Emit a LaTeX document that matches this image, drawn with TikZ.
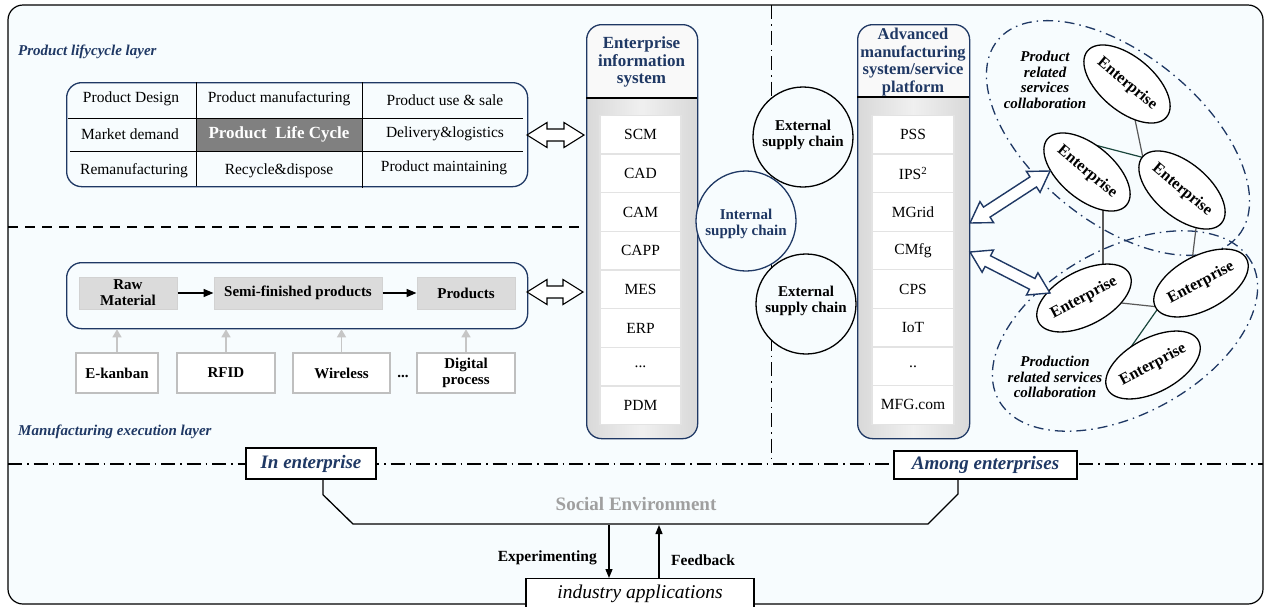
\documentclass[tikz,border=0pt]{standalone}
\usepackage{fontspec}
\setmainfont{Liberation Serif}
\usetikzlibrary{calc,arrows.meta,shapes.geometric}
\definecolor{navy}{RGB}{31,56,100}
\definecolor{bgc}{RGB}{247,252,254}
\definecolor{dgreen}{RGB}{25,70,60}
\definecolor{lcgray}{RGB}{128,128,128}
\newcommand{\fsz}[2]{\fontsize{#1}{#2}\selectfont}
\newcommand{\tdots}{.{}.{}.}
\newcommand{\dblarr}[3]{%
\draw[#1] (#2) -- ($(#2)!20pt!(#3)!12.5pt!90:(#3)$) -- ($(#2)!20pt!(#3)!6pt!90:(#3)$) -- ($(#3)!20pt!(#2)!6pt!-90:(#2)$) -- ($(#3)!20pt!(#2)!12.5pt!-90:(#2)$) -- (#3) -- ($(#3)!20pt!(#2)!12.5pt!90:(#2)$) -- ($(#3)!20pt!(#2)!6pt!90:(#2)$) -- ($(#2)!20pt!(#3)!6pt!-90:(#3)$) -- ($(#2)!20pt!(#3)!12.5pt!-90:(#3)$) -- cycle;}
\tikzset{
 txt/.style={font=\fsz{15.5}{17}, inner sep=0},
 cell/.style={draw=gray!22, line width=1.3, fill=white, minimum width=81, minimum height=38.7, inner sep=0, font=\fsz{15.5}{17}},
 hdr/.style={font=\bfseries\fsz{17}{17.8}, text=navy, align=center, inner sep=0},
 circ/.style={circle, draw, line width=1.3, fill=bgc, minimum size=100, inner sep=0},
 ctext/.style={align=center, inner sep=0, font=\bfseries\fsz{15}{16.5}},
 gbox/.style={fill=gray!28, draw=gray!35, line width=1, minimum height=32, inner sep=0, align=center, font=\bfseries\fsz{15}{16}},
 wbox/.style={fill=white, draw=gray!50, line width=1.2, minimum height=40, inner sep=0, align=center, font=\bfseries\fsz{15}{15.5}},
 rbox/.style={draw=navy, line width=1.3, rounded corners=15, inner sep=0},
 ent/.style={ellipse, draw, line width=1.3, fill=white, minimum width=100, minimum height=54, inner sep=0, font=\bfseries\fsz{16}{17}},
 grp/.style={ellipse, draw=navy, line width=1.3, dash pattern=on 10pt off 5pt on 1.5pt off 5pt},
 layer/.style={font=\bfseries\itshape\fsz{15}{17}, text=navy, anchor=west, inner sep=0},
 ibox/.style={draw, line width=1.5, fill=white, inner sep=0, font=\bfseries\itshape\fsz{19}{20}, text=navy},
 garr/.style={draw=gray!45, line width=1.5, -{Triangle[length=8pt,width=9pt]}},
 barr/.style={line width=1.3, -{Triangle[length=9pt,width=7pt]}},
 marr/.style={line width=1.6, -{Triangle[length=10pt,width=8pt]}},
 dblk/.style={draw, fill=white, line width=1.1},
 dblu/.style={draw=navy, fill=white, line width=1.4},
 ddash/.style={line width=1.3, dash pattern=on 14pt off 5pt on 1.5pt off 5pt},
 gline/.style={draw=gray!70!black, line width=1.2},
 kline/.style={draw=dgreen, line width=1.2},
 it/.style={font=\bfseries\itshape\fsz{15}{15.7}, align=center, inner sep=0}
}
\begin{document}
\begin{tikzpicture}[x=1pt,y=-1pt]
\useasboundingbox (0,0) rectangle (1266,606);
\fill[white] (0,0) rectangle (1266,606);
\draw[line width=1.2, fill=bgc, rounded corners=15] (8,5) rectangle (1263,604);

% layer separators
\draw[line width=1.2, dash pattern=on 10pt off 7pt] (8,227) -- (586,227);
\draw[ddash, line width=1] (771,5) -- (771,464);
\draw[ddash, line width=1.6] (8,464) -- (1263,464);

% layer labels
\node[layer] (l1) at (18,52) {Product lifycycle layer};
\node[layer] (l2) at (18,432) {Manufacturing execution layer};

% product life cycle table
\fill[lcgray] (196,118) rectangle (362,151);
\node[rbox, minimum width=461, minimum height=104, anchor=north west] (lc) at (66,82) {};
\draw[line width=1] (196,82) -- (196,186);
\draw[line width=1] (362,82) -- (362,188);
\draw[line width=1] (68,118) -- (523,118);
\draw[line width=1] (70,151) -- (523,151);
\node[txt] (c11) at (131,99) {Product Design};
\node[txt] (c12) at (279,99) {Product manufacturing};
\node[txt] (c13) at (445,100) {Product use \& sale};
\node[txt] (c21) at (130,134) {Market demand};
\node[txt, text=white, font=\bfseries\fsz{17}{18}] (c22) at (279,134) {Product\ \ Life Cycle};
\node[txt] (c23) at (445,134) {Delivery\&logistics};
\node[txt] (c31) at (134,171) {Remanufacturing};
\node[txt] (c32) at (279,171) {Recycle\&dispose};
\node[txt] (c33) at (444,168) {Product maintaining};

% manufacturing flow
\node[rbox, minimum width=461, minimum height=66, anchor=north west] (mfg) at (66,262) {};
\node[gbox, minimum width=98] (raw) at (128,293) {Raw\\Material};
\node[gbox, minimum width=168] (semi) at (298,293) {Semi-finished products};
\node[gbox, minimum width=98] (prod) at (466,293) {Products};
\draw[marr] (raw) -- (semi);
\draw[marr] (semi) -- (prod);
\node[wbox, minimum width=82] (ek) at (117,373) {E-kanban};
\node[wbox, minimum width=98] (rf) at (226,373) {RFID};
\node[wbox, minimum width=97] (wl) at (341.5,373) {Wireless};
\node[txt, font=\bfseries\fsz{15}{16}] (dd) at (403,376) {...};
\node[wbox, minimum width=98] (dp) at (466,373) {Digital\\process};
\foreach \b in {ek,rf,wl,dp}{\draw[garr] (\b.north) -- (\b.north |- mfg.south);}

% enterprise information system column
\path[rounded corners=15, fill=gray!5] (586,24) rectangle (697,438);
\begin{scope}
\clip[rounded corners=15] (586,24) rectangle (697,438);
\shade[left color=gray!30, right color=gray!30, middle color=gray!12] (586,98) rectangle (697,438);
\end{scope}
\node[rbox, minimum width=111, minimum height=414, anchor=north west] (eis) at (586,24) {};
\draw[line width=1.2] (586,98) -- (697,98);
\node[hdr] (eish) at (641.5,62) {Enterprise\\information\\system};
\foreach \t [count=\i] in {SCM,CAD,CAM,CAPP,MES,ERP,\tdots,PDM}{
 \node[cell] (eis\i) at (640.5, 115.4+\i*38.66-19.33) {\t};}

% advanced manufacturing column
\path[rounded corners=15, fill=gray!5] (857,24) rectangle (969,438);
\begin{scope}
\clip[rounded corners=15] (857,24) rectangle (969,438);
\shade[left color=gray!30, right color=gray!30, middle color=gray!12] (857,97) rectangle (969,438);
\end{scope}
\node[rbox, minimum width=112, minimum height=414, anchor=north west] (ams) at (857,24) {};
\draw[line width=1.2] (857,97) -- (969,97);
\node[hdr, font=\bfseries\fsz{16.5}{17.7}] (amsh) at (913,62) {Advanced\\manufacturing\\system/service\\platform};
\foreach \t [count=\i] in {PSS,IPS\textsuperscript{2},MGrid,CMfg,CPS,IoT,..,MFG.com}{
 \node[cell, minimum width=82] (ams\i) at (913, 115.4+\i*38.6-19.3) {\t};}

% supply chain circles
\node[circ] (ext1) at (803,137) {};
\node[ctext] (ext1t) at (803,135) {External\\supply chain};
\node[circ, draw=navy] (int) at (746,221) {};
\node[ctext, text=navy] (intt) at (746,224) {Internal\\supply chain};
\node[circ] (ext2) at (806,304) {};
\node[ctext] (ext2t) at (806,301) {External\\supply chain};

% double arrows left
\coordinate (da1) at (527,135);
\coordinate (da2) at (584,135);
\coordinate (da3) at (527,292);
\coordinate (da4) at (583,292);
\dblarr{dblk}{da1}{da2}
\dblarr{dblk}{da3}{da4}

% collaboration groups
\node[grp, minimum width=310, minimum height=168, rotate=-39] (g1) at (1118,138) {};
\node[grp, minimum width=288, minimum height=166, rotate=28.5] (g2) at (1125,331) {};

% enterprise links
\coordinate (a1) at (1133,110); \coordinate (a2) at (1143,158);
\coordinate (b1) at (1068,138); \coordinate (b2) at (1145,158);
\coordinate (c1) at (1103,205); \coordinate (c2) at (1103,268);
\coordinate (d1) at (1197,220); \coordinate (d2) at (1192,261);
\coordinate (e1a) at (1112,302); \coordinate (e2a) at (1159,307);
\coordinate (f1) at (1159,307); \coordinate (f2) at (1119,364);
\draw[gline] (a1) -- (a2);
\draw[kline] (b1) -- (b2);
\draw[gline] (c1) -- (c2);
\draw[gline] (d1) -- (d2);
\draw[gline] (e1a) -- (e2a);
\draw[kline] (f1) -- (f2);

% enterprises
\node[ent, rotate=-40] (en1) at (1127,84) {Enterprise};
\node[ent, rotate=-40] (en2) at (1087,172) {Enterprise};
\node[ent, rotate=-40] (en3) at (1182,190) {Enterprise};
\node[ent, rotate=28] (en4) at (1084,298) {Enterprise};
\node[ent, rotate=28] (en5) at (1201,283) {Enterprise};
\node[ent, rotate=28] (en6) at (1153,365) {Enterprise};

\node[it] (t1) at (1045,80) {Product\\related\\services\\collaboration};
\node[it] (t2) at (1055,377) {Production\\related services\\collaboration};

% blue double arrows
\coordinate (ba1) at (970,223); \coordinate (ba2) at (1050,171);
\coordinate (ba3) at (970,252); \coordinate (ba4) at (1050,293);
\dblarr{dblu}{ba1}{ba2}
\dblarr{dblu}{ba3}{ba4}

% bottom: social environment
\node[ibox, minimum width=130, minimum height=31] (inent) at (311,463.5) {In enterprise};
\node[ibox, minimum width=183, minimum height=28] (among) at (985.5,465) {Among enterprises};
\draw[line width=1.3] ([xshift=12pt]inent.south) -- ++(0,15) -- (353,524) -- (928,524) -- (958,494) -- ([xshift=-27.5pt]among.south);
\node[font=\bfseries\fsz{19}{20}, text=gray!75, inner sep=0] (soc) at (636,504) {Social Environment};
\node[draw, line width=1.3, fill=white, minimum width=228, minimum height=40, anchor=north, inner sep=0] (ind) at (640,578) {};
\node[font=\itshape\fsz{19.5}{20}, inner sep=0] (indt) at (640,594) {industry applications};
\coordinate (s1) at (609,525);
\coordinate (s2) at (659,525);
\draw[barr] (s1) -- (s1 |- ind.north);
\draw[barr] (s2 |- ind.north) -- (s2);
\node[font=\bfseries\fsz{15.5}{16}, inner sep=0, anchor=east] (exp) at (597,558) {Experimenting};
\node[font=\bfseries\fsz{15.5}{16}, inner sep=0, anchor=west] (fb) at (671,560) {Feedback};
\end{tikzpicture}
\end{document}
